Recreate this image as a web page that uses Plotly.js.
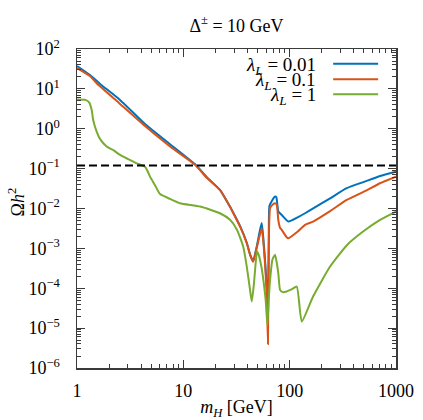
<!DOCTYPE html>
<html>
<head>
<meta charset="utf-8">
<script src="https://cdn.plot.ly/plotly-3.0.1.min.js"></script>
<style>
  html, body { margin: 0; padding: 0; background: #fff; }
  #chart { width: 423px; height: 420px; }
</style>
</head>
<body>
<div id="chart"></div>
<script>
// relic density vs m_H, Delta = 10 GeV, three lambda_L values
var mH_a = [1, 1.325, 1.65, 2.54, 4.36, 7.5, 12.9, 16.7, 22.1, 27.5, 29.5, 34.2, 39.5, 42.5, 45.3, 49.3, 52, 54.6, 56.5, 58.7, 61, 62.5, 63.6, 64.5, 68, 72.9, 75, 78.3, 84.3, 97.2, 120, 139.6, 168, 240, 344, 500, 708, 1000];
var omega_a = [37.5, 22.3, 13.3, 5.27, 1.32, 0.41, 0.128, 0.06, 0.0295, 0.011, 0.0078, 0.0036, 0.00138, 0.0007, 0.00048, 0.0012, 0.0025, 0.0043, 0.0018, 0.0005, 0.0001, 0.00003, 0.0015, 0.0115, 0.0155, 0.0199, 0.019, 0.0084, 0.0069, 0.0047, 0.0061, 0.0076, 0.0102, 0.018, 0.0323, 0.0466, 0.0656, 0.084];

var mH_b = [1, 1.325, 1.53, 2.54, 4.36, 7.5, 12.9, 16.7, 22.1, 27.5, 29.5, 34.2, 39.5, 42.5, 45.3, 49.3, 52, 54.6, 56.5, 58.7, 61, 62.5, 63.6, 65.4, 68, 72.9, 75.5, 78.3, 81.2, 84.3, 93.7, 97.2, 120, 139.6, 166, 240, 344, 500, 708, 1000];
var omega_b = [33.4, 21, 13.8, 4.19, 1.17, 0.36, 0.125, 0.058, 0.0292, 0.011, 0.0076, 0.0035, 0.00135, 0.00068, 0.00046, 0.0011, 0.002, 0.0032, 0.0015, 0.0004, 0.00006, 0.000004, 0.0012, 0.0102, 0.012, 0.0136, 0.0125, 0.005, 0.0033, 0.0029, 0.0019, 0.0018, 0.0027, 0.0039, 0.0047, 0.0086, 0.0164, 0.0265, 0.043, 0.063];

var mH_c = [1, 1.2, 1.3, 1.375, 1.42, 1.53, 1.65, 1.9, 2.2, 2.54, 3.0, 3.64, 4.36, 4.6, 4.86, 5.4, 6.04, 7.5, 9.3, 14.4, 22.1, 27.5, 32, 36.6, 39.5, 42.4, 44, 46, 47.3, 49.3, 51.5, 54.5, 56.6, 59.5, 61.7, 63.5, 65.4, 68.8, 72.9, 76, 78.3, 81.2, 86, 93.7, 105, 116.6, 130, 166, 240, 347, 490, 708, 1000];
var omega_c = [5.4, 5.3, 4.6, 2.96, 1.66, 0.85, 0.55, 0.36, 0.29, 0.22, 0.175, 0.136, 0.112, 0.0875, 0.063, 0.039, 0.023, 0.0174, 0.0136, 0.0112, 0.0076, 0.0052, 0.0029, 0.0011, 0.00035, 0.000091, 0.0000465, 0.00012, 0.00029, 0.00083, 0.00065, 0.00032, 0.00016, 0.00005, 0.000012, 0.00005, 0.00016, 0.00052, 0.00069, 0.0004, 0.00023, 0.000091, 0.00008, 0.000083, 0.000095, 0.00011, 0.0000146, 0.000062, 0.00035, 0.00122, 0.00264, 0.0052, 0.0084];

var omegaObs = 0.12;

var seriesNames = ['0.01', '0.1', '1'];
var seriesColors = ['#0072BD', '#D95319', '#77AC30'];

var xTickVals = [1, 10, 100, 1000];
var xTickText = ['1', '10', '100', '1000'];
var yTickVals = [1e-6, 1e-5, 1e-4, 1e-3, 1e-2, 1e-1, 1, 10, 100];
var yTickText = ['10<sup>−6</sup>', '10<sup>−5</sup>', '10<sup>−4</sup>', '10<sup>−3</sup>',
                 '10<sup>−2</sup>', '10<sup>−1</sup>', '10<sup>0</sup>', '10<sup>1</sup>', '10<sup>2</sup>'];

function minorTicks(lo, hi) {
  var out = [];
  for (var p = lo; p < hi; p++) {
    for (var d = 2; d <= 9; d++) out.push(d * Math.pow(10, p));
  }
  return out;
}

var FONT = '"Liberation Serif", "DejaVu Serif", serif';
var AX = '#3a3a3a';

var xs = [mH_a, mH_b, mH_c];
var ys = [omega_a, omega_b, omega_c];
var data = [];
for (var i = 0; i < 3; i++) {
  data.push({
    x: xs[i], y: ys[i],
    mode: 'lines', type: 'scatter',
    line: {color: seriesColors[i], width: 2, shape: 'spline', smoothing: 0.5},
    hoverinfo: 'skip'
  });
}
data.push({
  x: [1, 1000], y: [omegaObs, omegaObs],
  mode: 'lines', type: 'scatter',
  line: {color: '#000', width: 2, dash: '8px,4px'},
  hoverinfo: 'skip'
});

// hand made legend: text on the left, line sample on the right
var legY = [0.948, 0.899, 0.852];
var annotations = [];
var shapes = [];
for (var k = 0; k < 3; k++) {
  annotations.push({
    xref: 'paper', yref: 'paper', x: 0.755, y: legY[k],
    xanchor: 'right', yanchor: 'middle', showarrow: false,
    text: '<i>λ</i><sub><i>L</i></sub> = ' + seriesNames[k],
    font: {family: FONT, size: 19, color: '#000'}
  });
  shapes.push({
    type: 'line', xref: 'paper', yref: 'paper',
    x0: 0.803, x1: 0.944, y0: legY[k] + 0.006, y1: legY[k] + 0.006,
    line: {color: seriesColors[k], width: 2}
  });
}
// y axis title as annotation so it sits where the reference has it
annotations.push({
  xref: 'paper', yref: 'paper', x: -0.19, y: 0.52,
  xanchor: 'center', yanchor: 'middle', showarrow: false, textangle: -90,
  text: 'Ω<i>h</i><sup>2</sup>',
  font: {family: FONT, size: 18, color: '#000'}
});

var layout = {
  width: 423, height: 420,
  margin: {l: 77, r: 27, t: 49, b: 52},
  paper_bgcolor: '#fff', plot_bgcolor: '#fff',
  showlegend: false,
  font: {family: FONT, size: 17, color: '#000'},
  title: {
    text: 'Δ<sup>±</sup> = 10 GeV',
    font: {family: FONT, size: 18, color: '#000'},
    xref: 'paper', x: 0.5, xanchor: 'center',
    yref: 'container', y: 0.94, yanchor: 'middle'
  },
  xaxis: {
    type: 'log', range: [0, 3],
    tickmode: 'array', tickvals: xTickVals, ticktext: xTickText,
    ticks: 'inside', ticklen: 8, tickwidth: 1.2, tickcolor: AX,
    showline: true, linecolor: AX, linewidth: 1.5, mirror: 'ticks',
    showgrid: false, zeroline: false,
    ticklabelstandoff: 6,
    tickfont: {family: FONT, size: 18, color: '#000'},
    minor: {tickmode: 'array', tickvals: minorTicks(0, 3), ticks: 'inside', ticklen: 4, tickwidth: 1, tickcolor: AX, showgrid: false},
    title: {text: '<i>m</i><sub><i>H</i></sub> [GeV]', font: {family: FONT, size: 18, color: '#000'}, standoff: 3},
    automargin: false
  },
  yaxis: {
    type: 'log', range: [-6, 2],
    tickmode: 'array', tickvals: yTickVals, ticktext: yTickText,
    ticks: 'inside', ticklen: 8, tickwidth: 1.2, tickcolor: AX,
    showline: true, linecolor: AX, linewidth: 1.5, mirror: 'ticks',
    showgrid: false, zeroline: false,
    ticklabelstandoff: 12,
    tickfont: {family: FONT, size: 18, color: '#000'},
    minor: {tickmode: 'array', tickvals: minorTicks(-6, 2), ticks: 'inside', ticklen: 4, tickwidth: 1, tickcolor: AX, showgrid: false},
    automargin: false
  },
  annotations: annotations,
  shapes: shapes
};

Plotly.newPlot('chart', data, layout, {displayModeBar: false, staticPlot: true});
</script>
</body>
</html>
